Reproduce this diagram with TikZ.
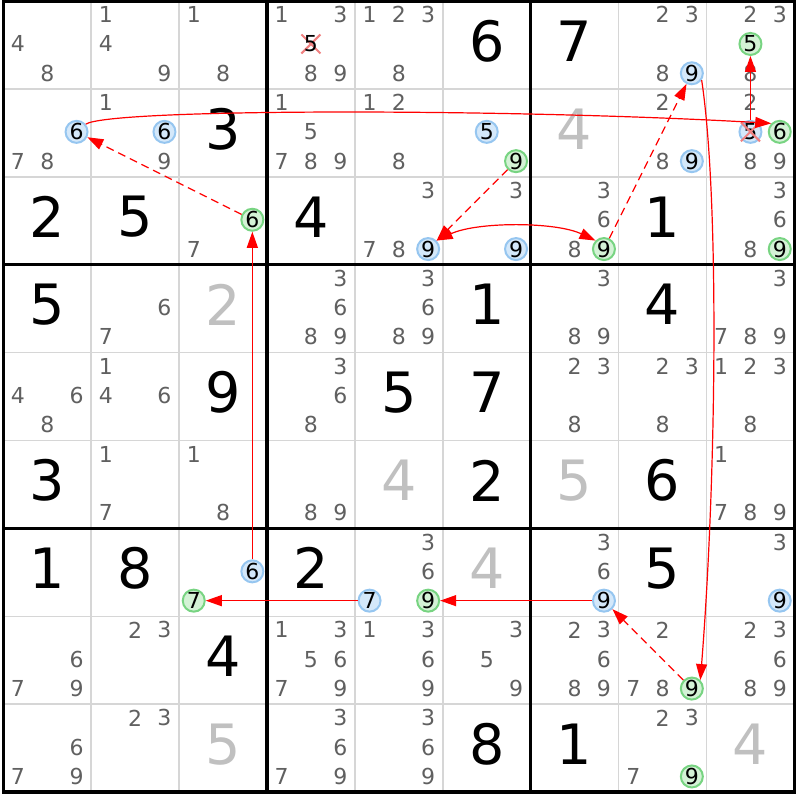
\documentclass[tikz,border=0pt]{standalone}
\usepackage{fontspec}
\setmainfont{DejaVu Sans}
\usetikzlibrary{arrows.meta, shapes.misc}
\definecolor{candgray}{RGB}{96,96,96}
\definecolor{placedgray}{RGB}{192,192,192}
\definecolor{gridgray}{RGB}{214,214,214}
\definecolor{offfill}{RGB}{212,232,250}
\definecolor{offline}{RGB}{150,198,240}
\definecolor{onfill}{RGB}{212,242,214}
\definecolor{online}{RGB}{120,212,130}
\definecolor{xpink}{RGB}{240,128,128}

\begin{document}
\begin{tikzpicture}[x=0.5pt, y=-0.5pt,
  cand/.style = {inner sep=0, text=candgray, font=\fontsize{11}{11}\selectfont},
  given/.style = {inner sep=0, font=\fontsize{27.8}{28}\selectfont},
  placed/.style = {given, text=placedgray},
  offc/.style = {circle, draw=offline, fill=offfill, line width=1pt, minimum size=11pt, inner sep=0, font=\fontsize{11}{11}\selectfont},
  onc/.style = {offc, draw=online, fill=onfill},
  elim/.style = {cross out, draw=xpink, line width=1pt, minimum size=8.5pt, inner sep=0},
  thinline/.style = {gridgray, line width=0.75pt},
  boxline/.style = {black, line width=1.65pt},
  link/.style = {red, line width=0.6pt, -{Triangle[length=8pt,width=5.5pt]}},
  weak/.style = {link, dash pattern=on 4pt off 2.5pt}]
\fill[white] (0,0) rectangle (800,800);
\useasboundingbox (0,0) rectangle (800,800);

\foreach \i in {1,2,4,5,7,8} {
  \draw[thinline] ({3.3+\i*87.9},1) -- ({3.3+\i*87.9},792.1);
  \draw[thinline] (3.3,{1+\i*87.9}) -- (794.4,{1+\i*87.9});
}
\foreach \i in {3,6} {
  \draw[boxline] ({3.3+\i*87.9},1) -- ({3.3+\i*87.9},792.1);
  \draw[boxline] (3.3,{1+\i*87.9}) -- (794.4,{1+\i*87.9});
}
\draw[boxline] (3.3,1) rectangle (794.4,792.1);

\foreach \r/\c/\d in {1/6/6, 1/7/7, 2/3/3, 3/1/2, 3/2/5, 3/4/4, 3/8/1, 4/1/5, 4/6/1, 4/8/4,
  5/3/9, 5/5/5, 5/6/7, 6/1/3, 6/6/2, 6/8/6, 7/1/1, 7/2/8, 7/4/2, 7/8/5, 8/3/4, 9/6/8, 9/7/1}
  \node[given] (v\r\c) at ({3.3+(\c-0.5)*87.9},{1+(\r-0.5)*87.9-4}) {\d};
\foreach \r/\c/\d in {2/7/4, 4/3/2, 6/5/4, 6/7/5, 7/6/4, 9/3/5, 9/9/4}
  \node[placed] (v\r\c) at ({3.3+(\c-0.5)*87.9},{1+(\r-0.5)*87.9-4}) {\d};

\foreach \r/\c/\ds in {1/1/{4,8}, 1/2/{1,4,9}, 1/3/{1,8}, 1/4/{1,3,8,9}, 1/5/{1,2,3,8}, 1/8/{2,3,8,9}, 1/9/{2,3,5,8},
  2/1/{6,7,8}, 2/2/{1,6,9}, 2/4/{1,5,7,8,9}, 2/5/{1,2,8}, 2/6/{5,9}, 2/8/{2,8,9}, 2/9/{2,5,6,8,9},
  3/3/{6,7}, 3/5/{3,7,8,9}, 3/6/{3,9}, 3/7/{3,6,8,9}, 3/9/{3,6,8,9},
  4/2/{6,7}, 4/4/{3,6,8,9}, 4/5/{3,6,8,9}, 4/7/{3,8,9}, 4/9/{3,7,8,9},
  5/1/{4,6,8}, 5/2/{1,4,6}, 5/4/{3,6,8}, 5/7/{2,3,8}, 5/8/{2,3,8}, 5/9/{1,2,3,8},
  6/2/{1,7}, 6/3/{1,8}, 6/4/{8,9}, 6/9/{1,7,8,9},
  7/3/{6,7}, 7/5/{3,6,7,9}, 7/7/{3,6,9}, 7/9/{3,9},
  8/1/{6,7,9}, 8/2/{2,3}, 8/4/{1,3,5,6,7,9}, 8/5/{1,3,6,9}, 8/6/{3,5,9}, 8/7/{2,3,6,8,9}, 8/8/{2,7,8,9}, 8/9/{2,3,6,8,9},
  9/1/{6,7,9}, 9/2/{2,3}, 9/4/{3,6,7,9}, 9/5/{3,6,9}, 9/8/{2,3,7,9}} {
  \foreach \d in \ds
    \node[cand] (n\r\c\d) at ({3.3+(\c-1)*87.9+(2*mod(\d-1,3)+1)*14.65},{(\r-1)*87.9+(2*int((\d-1)/3)+1)*14.65}) {\d};
}

\foreach \r/\c/\d in {2/1/6, 2/2/6, 2/6/5, 1/8/9, 2/8/9, 2/9/5, 3/5/9, 3/6/9, 7/3/6, 7/5/7, 7/7/9, 7/9/9}
  \node[offc] (h\r\c\d) at (n\r\c\d) {\d};
\foreach \r/\c/\d in {1/9/5, 2/9/6, 2/6/9, 3/3/6, 3/7/9, 3/9/9, 7/3/7, 7/5/9, 8/8/9, 9/8/9}
  \node[onc] (h\r\c\d) at (n\r\c\d) {\d};

\node[elim] (x145) at ({3.3+3*87.9+3*14.65},{3*14.65}) {};
\node[cand, text=black] (n145) at (x145) {5};
\node[elim] at (h295) {};

\draw[link] (h216.40) .. controls +(25,-16) and +(-260,-15) .. (h296.135);
\draw[link] (h295) -- (h195);
\draw[weak] (h336) -- (h216);
\draw[link] (h736) -- (h336);
\draw[weak] (h269) -- (h359);
\draw[link, {Triangle[length=8pt,width=5.5pt]}-{Triangle[length=8pt,width=5.5pt]}] (h359.45) .. controls +(40,-19) and +(-40,-19) .. (h379.135);
\draw[weak] (h379) -- (h189);
\draw[link] (h189.-35) .. controls +(18,120) and +(16,-200) .. (h889.45);
\draw[weak] (h889) -- (h779);
\draw[link] (h779) -- (h759);
\draw[link] (h757) -- (h737);
\end{tikzpicture}
\end{document}
